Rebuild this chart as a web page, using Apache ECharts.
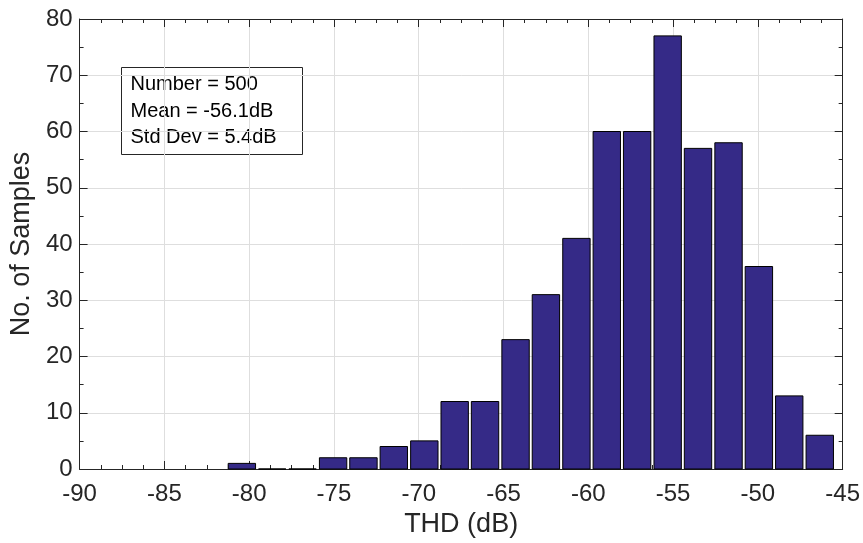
<!DOCTYPE html>
<html>
<head>
<meta charset="utf-8">
<script src="https://cdn.jsdelivr.net/npm/echarts@6/dist/echarts.min.js"></script>
<style>html,body{margin:0;padding:0;background:#fff;}#chart{width:863px;height:543px;}</style>
</head>
<body>
<div id="chart"></div>
<script>
// Histogram bin centres (dB) and counts
const binCenters = [-80.43, -78.64, -76.85, -75.05, -73.26, -71.47, -69.67, -67.88, -66.09, -64.29,
                    -62.50, -60.70, -58.91, -57.12, -55.32, -53.53, -51.73, -49.94, -48.15, -46.35];
const counts = [1, 0, 0, 2, 2, 4, 5, 12, 12, 23, 31, 41, 60, 60, 77, 57, 58, 36, 13, 6];
const binWidth = 1.794;
const barFraction = 0.9;
const xTicks = [-90, -85, -80, -75, -70, -65, -60, -55, -50, -45];
const yTicks = [0, 10, 20, 30, 40, 50, 60, 70, 80];
const statsLines = ['Number = 500', 'Mean = -56.1dB', 'Std Dev = 5.4dB'];
const xTitle = 'THD (dB)';
const yTitle = 'No. of Samples';

const textColor = '#262626';
const gridColor = '#dedede';
const barColor = '#352a87';
const fontFamily = '"Liberation Sans", Arial, Helvetica, sans-serif';

const chart = echarts.init(document.getElementById('chart'));
const data = binCenters.map((c, i) => [c, counts[i]]);

function axisCommon(extra) {
  return Object.assign({
    axisLine: {show: true, onZero: false, lineStyle: {color: textColor, width: 1}},
    axisTick: {show: true, inside: true, length: 8, lineStyle: {color: textColor}},
    minorTick: {show: true, length: 4, lineStyle: {color: textColor}},
    splitLine: {show: false},
    minorSplitLine: {show: false}
  }, extra);
}

const option = {
  animation: false,
  backgroundColor: '#fff',
  grid: {left: 79, right: 19, top: 19, bottom: 74, containLabel: false},
  xAxis: [
    axisCommon({
      type: 'value', position: 'bottom', min: xTicks[0], max: xTicks[xTicks.length - 1], interval: 5,
      minorTick: {show: true, splitNumber: 4, length: 4, lineStyle: {color: textColor}},
      axisLabel: {color: textColor, fontSize: 24, fontFamily: fontFamily, margin: 13,
                  formatter: v => String(v)},
      splitLine: {show: true, lineStyle: {color: gridColor, width: 1}},
      name: xTitle, nameLocation: 'middle', nameGap: 34,
      nameTextStyle: {color: textColor, fontSize: 27, fontFamily: fontFamily}
    }),
    axisCommon({
      type: 'value', position: 'top', min: xTicks[0], max: xTicks[xTicks.length - 1], interval: 5,
      minorTick: {show: true, splitNumber: 4, length: 4, lineStyle: {color: textColor}},
      axisLabel: {show: false}
    })
  ],
  yAxis: [
    axisCommon({
      type: 'value', position: 'left', min: yTicks[0], max: yTicks[yTicks.length - 1], interval: 10,
      minorTick: {show: true, splitNumber: 2, length: 4, lineStyle: {color: textColor}},
      axisLabel: {color: textColor, fontSize: 24, fontFamily: fontFamily, margin: 7},
      splitLine: {show: true, lineStyle: {color: gridColor, width: 1}},
      name: yTitle, nameLocation: 'middle', nameGap: 37, nameRotate: 90,
      nameTextStyle: {color: textColor, fontSize: 27, fontFamily: fontFamily}
    }),
    axisCommon({
      type: 'value', position: 'right', min: yTicks[0], max: yTicks[yTicks.length - 1], interval: 10,
      minorTick: {show: true, splitNumber: 2, length: 4, lineStyle: {color: textColor}},
      axisLabel: {show: false}
    })
  ],
  series: [{
    type: 'custom',
    xAxisIndex: 0, yAxisIndex: 0,
    data: data,
    z: 5,
    renderItem: function (params, api) {
      const c = api.value(0), v = api.value(1);
      const half = binWidth * barFraction / 2;
      const p0 = api.coord([c - half, v]);
      const p1 = api.coord([c + half, 0]);
      return {
        type: 'rect',
        shape: {x: p0[0], y: p0[1], width: p1[0] - p0[0], height: p1[1] - p0[1]},
        style: {fill: barColor, stroke: '#000', lineWidth: 1}
      };
    }
  }],
  graphic: [{
    type: 'group', left: 119, top: 65, z: 100,
    children: [
      {type: 'rect', shape: {x: 0, y: 0, width: 181, height: 87},
       style: {fill: 'none', stroke: textColor, lineWidth: 1}},
      ...statsLines.map((t, i) => ({
        type: 'text', x: 9, y: 17 + i * 26.5,
        style: {text: t, fill: '#000', font: '20px ' + fontFamily, textVerticalAlign: 'middle'}
      }))
    ]
  }]
};
chart.setOption(option);
</script>
</body>
</html>
